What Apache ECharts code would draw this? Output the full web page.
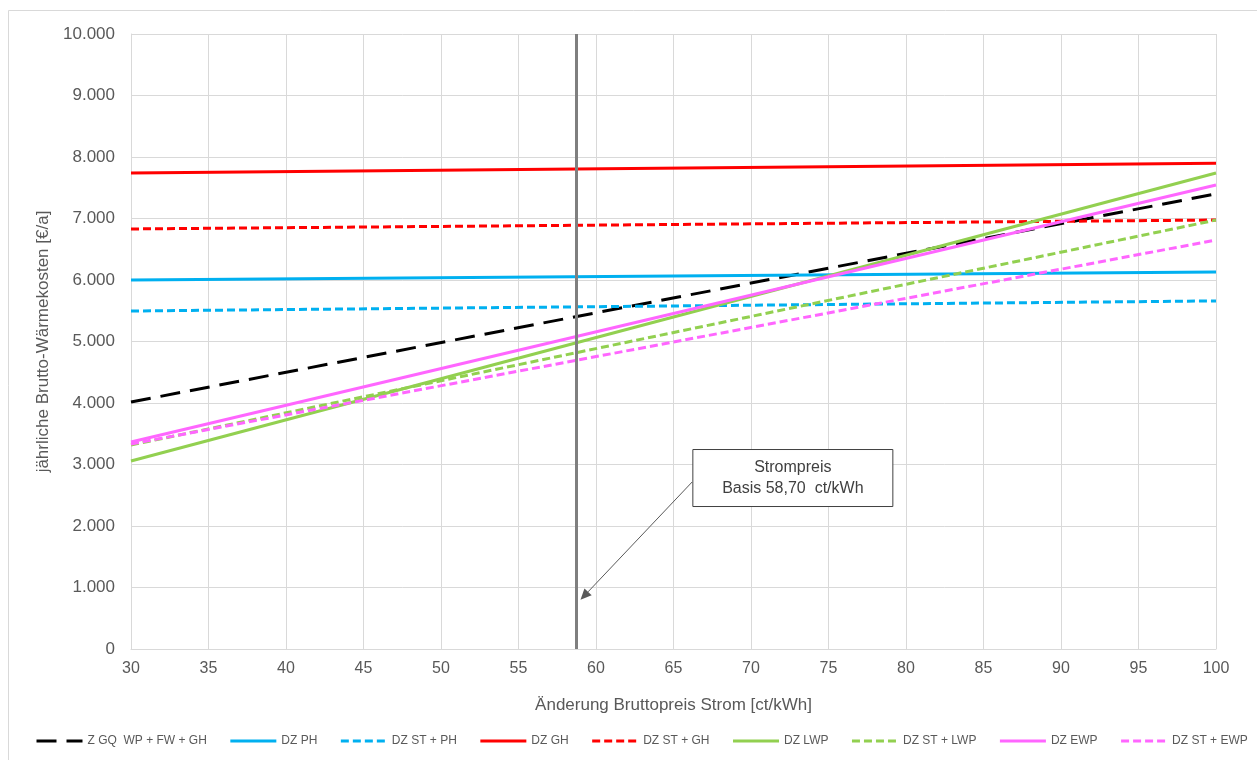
<!DOCTYPE html>
<html><head><meta charset="utf-8">
<script src="https://cdn.jsdelivr.net/npm/echarts@6/dist/echarts.min.js"></script>
<style>html,body{margin:0;padding:0;background:#fff}#c{width:1257px;height:760px}</style>
</head><body><div id="c"></div>
<script>
// ---- data ----
const xValues = [30, 100];
const zGQ     = [4016, 7400];
const dzPH    = [6000, 6130];
const dzStPH  = [5496, 5660];
const dzGH    = [7740, 7900];
const dzStGH  = [6830, 6975];
const dzLWP   = [3057, 7740];
const dzStLWP = [3317, 6975];
const dzEWP   = [3366, 7545];
const dzStEWP = [3333, 6650];
const seriesNames = ['Z GQ  WP + FW + GH','DZ PH','DZ ST + PH','DZ GH','DZ ST + GH','DZ LWP','DZ ST + LWP','DZ EWP','DZ ST + EWP'];
const basisPrice = 58.7;
const annotationLines = ['Strompreis', 'Basis 58,70  ct/kWh'];
const xTicks = {min: 30, max: 100, interval: 5};
const yTicks = {min: 0, max: 10000, interval: 1000};

const pairs = v => xValues.map((x, i) => [x, v[i]]);
const font = 'Arial, "Liberation Sans", sans-serif';
const BLUE = '#00b0f0', RED = '#ff0000', GREEN = '#92d050', PINK = '#ff66ff';
const shortDash = [8, 4];
function mk(name, data, color, type, extra) {
  return Object.assign({
    name, type: 'line', data: pairs(data), symbol: 'none', showSymbol: false,
    lineStyle: {color, width: 3, type}, itemStyle: {color}, silent: true, animation: false
  }, extra || {});
}
const series = [
  mk(seriesNames[0], zGQ, '#000000', [20, 10], {
    markLine: {
      symbol: 'none', silent: true, animation: false,
      label: {show: false},
      lineStyle: {color: '#7f7f7f', width: 3, type: 'solid'},
      data: [{xAxis: basisPrice}]
    }
  }),
  mk(seriesNames[1], dzPH, BLUE, 'solid'),
  mk(seriesNames[2], dzStPH, BLUE, shortDash),
  mk(seriesNames[3], dzGH, RED, 'solid'),
  mk(seriesNames[4], dzStGH, RED, shortDash),
  mk(seriesNames[5], dzLWP, GREEN, 'solid'),
  mk(seriesNames[6], dzStLWP, GREEN, shortDash),
  mk(seriesNames[7], dzEWP, PINK, 'solid'),
  mk(seriesNames[8], dzStEWP, PINK, shortDash)
];

const chart = echarts.init(document.getElementById('c'), null, {renderer: 'canvas'});
chart.setOption({
  backgroundColor: '#fff',
  animation: false,
  grid: {left: 131, right: 41, top: 34, bottom: 111},
  xAxis: {
    type: 'value', min: xTicks.min, max: xTicks.max, interval: xTicks.interval,
    name: 'Änderung Bruttopreis Strom [ct/kWh]', nameLocation: 'middle', nameGap: 48,
    nameTextStyle: {fontFamily: font, fontSize: 17, color: '#595959'},
    axisLine: {show: true, lineStyle: {color: '#d9d9d9', width: 1}},
    axisTick: {show: false},
    axisLabel: {fontFamily: font, fontSize: 16, color: '#595959', margin: 12},
    splitLine: {show: true, lineStyle: {color: '#d9d9d9', width: 1}}
  },
  yAxis: {
    type: 'value', min: yTicks.min, max: yTicks.max, interval: yTicks.interval,
    name: 'jährliche Brutto-Wärmekosten [€/a]', nameLocation: 'middle', nameGap: 69, nameRotate: 90,
    nameTextStyle: {fontFamily: font, fontSize: 17, color: '#595959'},
    axisLine: {show: true, lineStyle: {color: '#d9d9d9', width: 1}},
    axisTick: {show: false},
    axisLabel: {fontFamily: font, fontSize: 17, color: '#595959', margin: 16,
      formatter: v => String(v).replace(/\B(?=(\d{3})+(?!\d))/g, '.')},
    splitLine: {show: true, lineStyle: {color: '#d9d9d9', width: 1}}
  },
  legend: {
    bottom: 8, left: 30, itemWidth: 46, itemHeight: 10, itemGap: 22,
    icon: 'inherit',
    itemStyle: {opacity: 0, borderWidth: 0},
    lineStyle: {width: 3},
    textStyle: {fontFamily: font, fontSize: 12, color: '#595959'},
    data: seriesNames
  },
  series
});

// annotation anchored in data coordinates
const boxCenter = [72.7, 2780];
const arrowFrom = [66.2, 2715];
const arrowTo = [59.0, 800];
const pc = p => chart.convertToPixel({gridIndex: 0}, p);
const bc = pc(boxCenter), af = pc(arrowFrom), at = pc(arrowTo);
const bw = 200, bh = 57;
const ang = Math.atan2(at[1] - af[1], at[0] - af[0]);
const ah = 11, aw = 5;
const tip = at;
const base = [tip[0] - ah * Math.cos(ang), tip[1] - ah * Math.sin(ang)];
const p1 = [base[0] + aw * Math.sin(ang), base[1] - aw * Math.cos(ang)];
const p2 = [base[0] - aw * Math.sin(ang), base[1] + aw * Math.cos(ang)];
chart.setOption({
  graphic: [
    {type: 'rect', shape: {x: 8.5, y: 10.5, width: 1300, height: 800}, style: {fill: 'none', stroke: '#d9d9d9', lineWidth: 1}, silent: true, z: -10},
    {type: 'line', shape: {x1: af[0], y1: af[1], x2: base[0], y2: base[1]}, style: {stroke: '#595959', lineWidth: 1}, silent: true, z: 100},
    {type: 'polygon', shape: {points: [tip, p1, p2]}, style: {fill: '#595959'}, silent: true, z: 100},
    {type: 'rect', shape: {x: bc[0] - bw / 2, y: bc[1] - bh / 2, width: bw, height: bh},
      style: {fill: '#fff', stroke: '#404040', lineWidth: 1}, silent: true, z: 100},
    {type: 'text', x: bc[0], y: bc[1], silent: true, z: 101,
      style: {text: annotationLines.join('\n'), fill: '#404040', font: '16px ' + font,
        align: 'center', verticalAlign: 'middle', lineHeight: 21}}
  ]
});
</script></body></html>
